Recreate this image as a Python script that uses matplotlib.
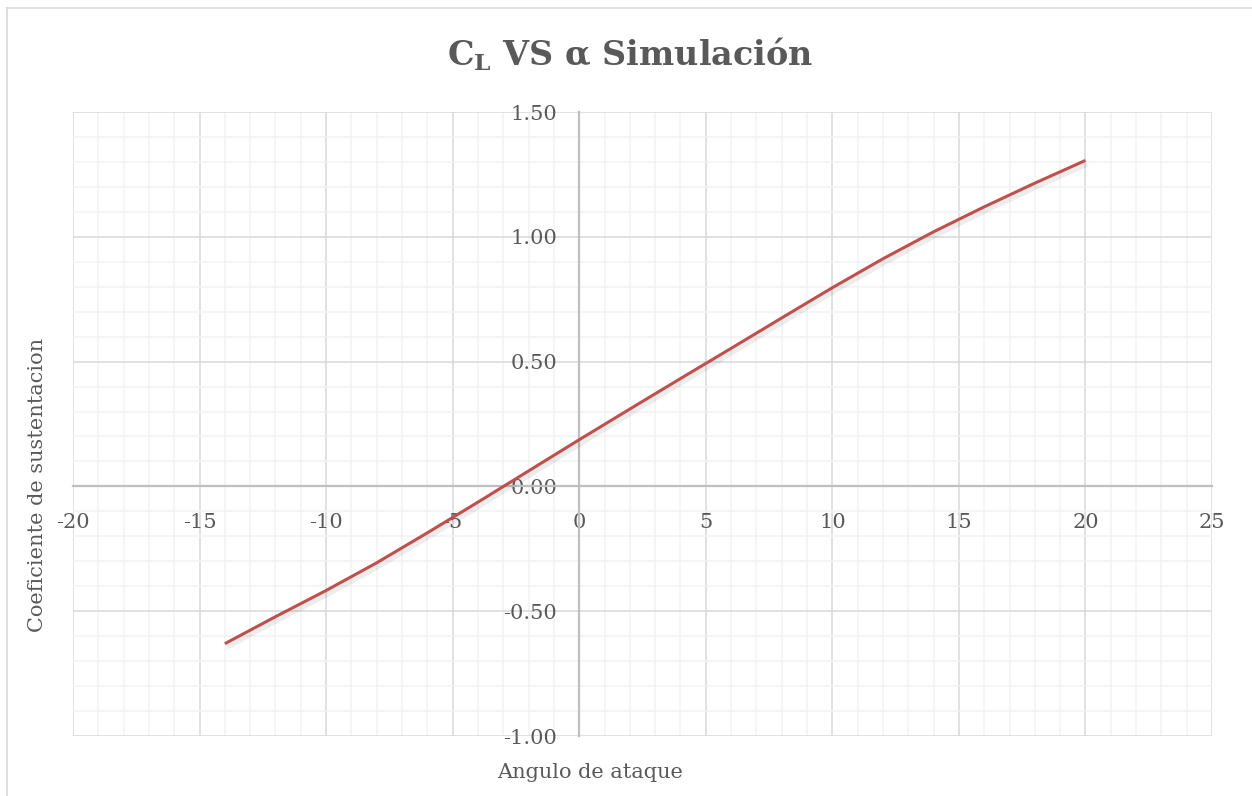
import numpy as np
import matplotlib.pyplot as plt
import matplotlib.patheffects as pe
from matplotlib.ticker import MultipleLocator, FormatStrFormatter
from matplotlib.lines import Line2D

plt.rcParams['font.family'] = ['DejaVu Serif']
plt.rcParams['axes.unicode_minus'] = False
plt.rcParams['mathtext.fontset'] = 'custom'
plt.rcParams['mathtext.rm'] = 'DejaVu Serif:bold'

# Simulated lift coefficient vs angle of attack
alpha = [-14, -12, -10, -8, -6, -4, -2, 0, 2, 4, 6, 8, 10, 12, 14, 16, 18, 20]
cl = [-0.630, -0.522, -0.417, -0.306, -0.186, -0.063, 0.062, 0.187, 0.310,
      0.432, 0.553, 0.675, 0.796, 0.912, 1.020, 1.120, 1.215, 1.306]

text_gray = '#595959'

fig = plt.figure(figsize=(12.52, 7.96), dpi=100)
ax = fig.add_axes([73 / 1252, 1 - 736 / 796, (1212 - 73) / 1252, (736 - 112) / 796])

ax.plot(alpha, cl, color='#C0504D', lw=2.2, solid_capstyle='butt', zorder=5,
        path_effects=[pe.SimpleLineShadow(offset=(1, -2), shadow_color='black',
                                          alpha=0.07, linewidth=5),
                      pe.Normal()])

ax.set_xlim(-20, 25)
ax.set_ylim(-1, 1.5)
ax.xaxis.set_major_locator(MultipleLocator(5))
ax.xaxis.set_minor_locator(MultipleLocator(1))
ax.yaxis.set_major_locator(MultipleLocator(0.5))
ax.yaxis.set_minor_locator(MultipleLocator(0.1))
ax.yaxis.set_major_formatter(FormatStrFormatter('%.2f'))

ax.grid(which='major', color='#D9D9D9', lw=1.1)
ax.grid(which='minor', color='#F2F2F2', lw=1.1)
ax.set_axisbelow(True)

# axes crossing at the origin
for side in ['top', 'right']:
    ax.spines[side].set_visible(False)
for side in ['left', 'bottom']:
    ax.spines[side].set_position('zero')
    ax.spines[side].set_color('#BFBFBF')
    ax.spines[side].set_linewidth(1.6)
    ax.spines[side].set_zorder(3)

ax.tick_params(which='both', length=0, labelsize=15, labelcolor=text_gray)
ax.tick_params(axis='y', pad=16)
ax.tick_params(axis='x', pad=19)

fig.text(0.5035, 0.932, r'$\mathrm{C_L}$ VS α Simulación', ha='center', va='center',
         fontsize=24, fontweight='bold', color=text_gray)
fig.text(38 / 1252, 1 - 485 / 796, 'Coeficiente de sustentacion', rotation=90,
         ha='center', va='center', fontsize=15, color=text_gray)
fig.text(590 / 1252, 1 - 772 / 796, 'Angulo de ataque', ha='center', va='center',
         fontsize=15, color=text_gray)

# chart frame
fig.add_artist(Line2D([7 / 1252, 7 / 1252], [0, 1 - 8 / 796], transform=fig.transFigure,
                      color='#D9D9D9', lw=1.2))
fig.add_artist(Line2D([7 / 1252, 1], [1 - 8 / 796, 1 - 8 / 796], transform=fig.transFigure,
                      color='#D9D9D9', lw=1.2))

fig.savefig('out.png', dpi=100)
